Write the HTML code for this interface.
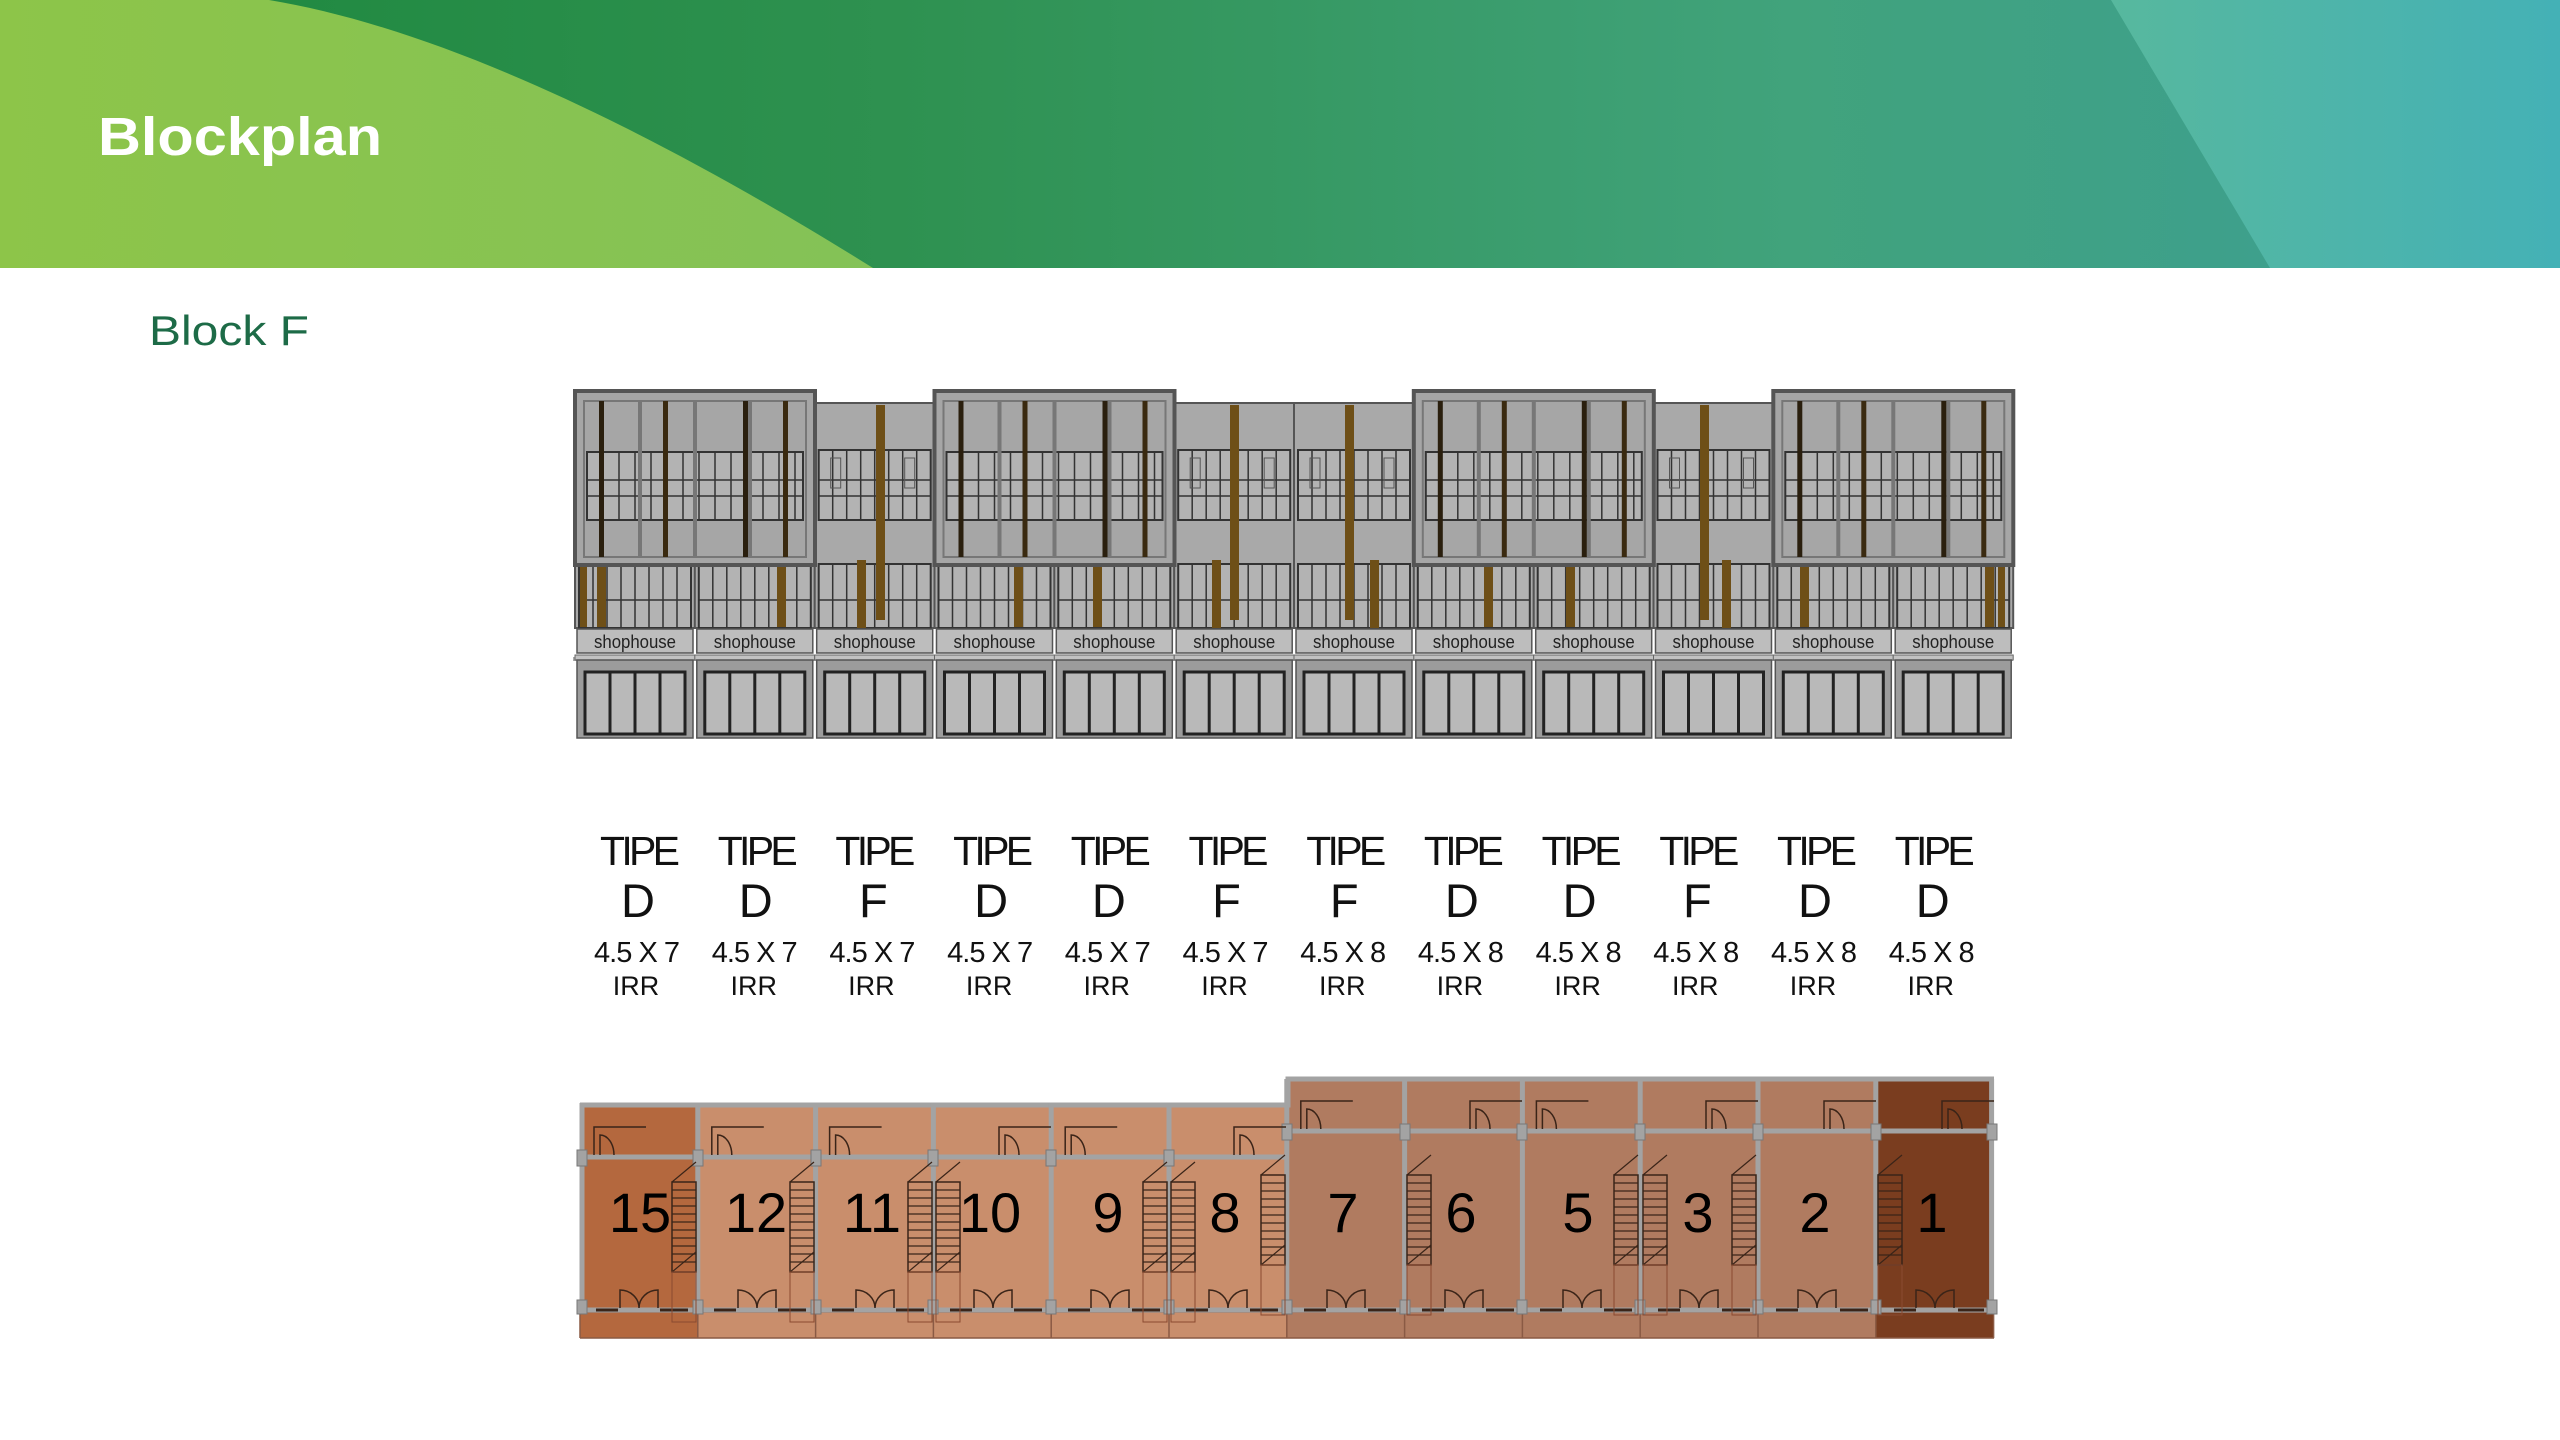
<!DOCTYPE html>
<html><head><meta charset="utf-8"><style>
html,body{margin:0;padding:0;background:#fff;}
body{width:2560px;height:1440px;overflow:hidden;position:relative;font-family:"Liberation Sans",sans-serif;}
svg{position:absolute;left:0;top:0;}
</style></head><body>
<svg width="2560" height="1440" viewBox="0 0 2560 1440" xmlns="http://www.w3.org/2000/svg">
<defs>
<linearGradient id="hg" x1="0" x2="1" y1="0" y2="0">
<stop offset="0" stop-color="#1c873c"/><stop offset="0.35" stop-color="#2e9150"/><stop offset="0.7" stop-color="#41a37c"/><stop offset="1" stop-color="#3c9e96"/>
</linearGradient>
<linearGradient id="lg" x1="0" x2="1"><stop offset="0" stop-color="#8dc549"/><stop offset="1" stop-color="#84c257"/></linearGradient>
<linearGradient id="tg" x1="0" x2="1"><stop offset="0" stop-color="#57b89e"/><stop offset="1" stop-color="#44b1b6"/></linearGradient>
<g id="u">
<rect x="0" y="403" width="120" height="225" fill="#a9a9a9" stroke="#555" stroke-width="2"/>
<rect x="4" y="450" width="112" height="70" fill="#b3b3b3" stroke="#333" stroke-width="2"/>
<path d="M4,480H116M4,496H116M18,450V520M32,450V520M46,450V520M60,450V520M74,450V520M88,450V520M102,450V520" stroke="#333" stroke-width="1.5" fill="none"/>
<rect x="16" y="458" width="10" height="30" fill="none" stroke="#555"/><rect x="90" y="458" width="10" height="30" fill="none" stroke="#555"/>
<rect x="4" y="564" width="112" height="64" fill="#b3b3b3" stroke="#333" stroke-width="2"/>
<path d="M4,600H116M18,564V628M32,564V628M46,564V628M60,564V628M74,564V628M88,564V628M102,564V628" stroke="#333" stroke-width="1.5" fill="none"/>
<rect x="2" y="629" width="116" height="24" fill="#bdbdbd" stroke="#555" stroke-width="1.5"/>
<text x="60" y="648" font-size="18" text-anchor="middle" fill="#222" font-family="Liberation Sans, sans-serif" textLength="82" lengthAdjust="spacingAndGlyphs">shophouse</text>
<rect x="0" y="655" width="120" height="5" fill="#c2c2c2" stroke="#666"/>
<rect x="2" y="660" width="116" height="78" fill="#9c9c9c" stroke="#555" stroke-width="1.5"/>
<rect x="10" y="672" width="100" height="62" fill="#b9b9b9" stroke="#222" stroke-width="3"/>
<path d="M35,672V734M60,672V734M85,672V734" stroke="#222" stroke-width="3"/>
</g>
<g id="b">
<rect x="0" y="391" width="240" height="174" fill="#a6a6a6" stroke="#555" stroke-width="4"/>
<rect x="9" y="401" width="222" height="156" fill="none" stroke="#777" stroke-width="2"/>
<rect x="12" y="452" width="216" height="68" fill="#b3b3b3" stroke="#333" stroke-width="2"/>
<path d="M12,480H228M12,496H228M28,452V520M44,452V520M60,452V520M76,452V520M92,452V520M108,452V520M124,452V520M140,452V520M156,452V520M172,452V520M188,452V520M204,452V520M220,452V520" stroke="#333" stroke-width="1.5"/>
<path d="M65,401V557M120,401V557M175,401V557" stroke="#777" stroke-width="4"/>
<rect x="24" y="401" width="5" height="156" fill="#2a1f0e"/><rect x="88" y="401" width="5" height="156" fill="#3a2a10"/>
<rect x="168" y="401" width="5" height="156" fill="#2a1f0e"/><rect x="208" y="401" width="5" height="156" fill="#3a2a10"/>
</g>
<g id="st">
<rect x="0" y="0" width="24" height="90" fill="none" stroke="#3a2418" stroke-width="1.5"/>
<path d="M0,8H24M0,16H24M0,24H24M0,32H24M0,40H24M0,48H24M0,56H24M0,64H24M0,72H24M0,80H24" stroke="#3a2418" stroke-width="1.2"/>
<path d="M0,0L24,-20M0,90L24,70" stroke="#3a2418" stroke-width="1.2"/>
<rect x="0" y="90" width="24" height="50" fill="none" stroke="#8a4a30" stroke-width="1"/>
</g>
<path id="dd" d="M-19,0v-18A19,18 0 0 1 0,0M19,0v-18A19,18 0 0 0 0,0" fill="none" stroke="#3a2418" stroke-width="1.5"/>
<path id="rd" d="M14,0V-28H66M14,-28V0M20,0v-20A14,20 0 0 1 34,0" fill="none" stroke="#3a2418" stroke-width="1.5"/>
</defs>

<!-- header -->
<rect x="0" y="0" width="2560" height="268" fill="url(#hg)"/>
<polygon points="2111,0 2560,0 2560,268 2270,268" fill="url(#tg)"/>
<path d="M0,0H269C420,25 620,110 873,268H0Z" fill="url(#lg)"/>
<text x="98" y="155" font-size="54" font-weight="bold" fill="#fff" font-family="Liberation Sans, sans-serif" textLength="284" lengthAdjust="spacingAndGlyphs">Blockplan</text>
<text x="149" y="345" font-size="42" fill="#1d6b47" font-family="Liberation Sans, sans-serif" textLength="160" lengthAdjust="spacingAndGlyphs">Block F</text>

<!-- facade -->
<rect x="573" y="657" width="1440" height="4" fill="#aaa"/>
<use href="#u" x="575"/><use href="#u" x="694.8"/><use href="#u" x="814.7"/><use href="#u" x="934.5"/>
<use href="#u" x="1054.3"/><use href="#u" x="1174.2"/><use href="#u" x="1294"/><use href="#u" x="1413.8"/>
<use href="#u" x="1533.7"/><use href="#u" x="1653.5"/><use href="#u" x="1773.3"/><use href="#u" x="1893.2"/>
<g fill="#6e4f17">
<rect x="876" y="405" width="9" height="215"/><rect x="1230" y="405" width="9" height="215"/>
<rect x="1345" y="405" width="9" height="215"/><rect x="1700" y="405" width="9" height="215"/>
<rect x="580" y="565" width="7" height="62"/><rect x="597" y="565" width="9" height="62"/>
<rect x="777" y="565" width="9" height="62"/><rect x="857" y="560" width="9" height="68"/>
<rect x="1014" y="565" width="9" height="62"/><rect x="1093" y="565" width="9" height="62"/>
<rect x="1212" y="560" width="9" height="68"/><rect x="1370" y="560" width="9" height="68"/>
<rect x="1484" y="565" width="9" height="62"/><rect x="1566" y="565" width="9" height="62"/>
<rect x="1722" y="560" width="9" height="68"/><rect x="1800" y="565" width="9" height="62"/>
<rect x="1985" y="565" width="9" height="62"/><rect x="1998" y="565" width="7" height="62"/>
</g>
<use href="#b" x="575"/><use href="#b" x="934.5"/><use href="#b" x="1413.8"/><use href="#b" x="1773.3"/>

<!-- labels -->
<g font-family="Liberation Sans, sans-serif" text-anchor="middle" fill="#111">
<g font-size="41" lengthAdjust="spacingAndGlyphs"><text x="640" y="865" textLength="80">TIPE</text><text x="757.7" y="865" textLength="80">TIPE</text><text x="875.4" y="865" textLength="80">TIPE</text><text x="993.1" y="865" textLength="80">TIPE</text><text x="1110.8" y="865" textLength="80">TIPE</text><text x="1228.5" y="865" textLength="80">TIPE</text><text x="1346.2" y="865" textLength="80">TIPE</text><text x="1463.9" y="865" textLength="80">TIPE</text><text x="1581.6" y="865" textLength="80">TIPE</text><text x="1699.3" y="865" textLength="80">TIPE</text><text x="1817" y="865" textLength="80">TIPE</text><text x="1934.7" y="865" textLength="80">TIPE</text></g>
<g font-size="47"><text x="638" y="917">D</text><text x="755.7" y="917">D</text><text x="873.4" y="917">F</text><text x="991.1" y="917">D</text><text x="1108.8" y="917">D</text><text x="1226.5" y="917">F</text><text x="1344.2" y="917">F</text><text x="1461.9" y="917">D</text><text x="1579.6" y="917">D</text><text x="1697.3" y="917">F</text><text x="1815" y="917">D</text><text x="1932.7" y="917">D</text></g>
<g font-size="29" lengthAdjust="spacingAndGlyphs"><text x="637" y="962" textLength="86">4.5 X 7</text><text x="754.7" y="962" textLength="86">4.5 X 7</text><text x="872.4" y="962" textLength="86">4.5 X 7</text><text x="990.1" y="962" textLength="86">4.5 X 7</text><text x="1107.8" y="962" textLength="86">4.5 X 7</text><text x="1225.5" y="962" textLength="86">4.5 X 7</text><text x="1343.2" y="962" textLength="86">4.5 X 8</text><text x="1460.9" y="962" textLength="86">4.5 X 8</text><text x="1578.6" y="962" textLength="86">4.5 X 8</text><text x="1696.3" y="962" textLength="86">4.5 X 8</text><text x="1814" y="962" textLength="86">4.5 X 8</text><text x="1931.7" y="962" textLength="86">4.5 X 8</text></g>
<g font-size="27"><text x="636" y="995">IRR</text><text x="753.7" y="995">IRR</text><text x="871.4" y="995">IRR</text><text x="989.1" y="995">IRR</text><text x="1106.8" y="995">IRR</text><text x="1224.5" y="995">IRR</text><text x="1342.2" y="995">IRR</text><text x="1459.9" y="995">IRR</text><text x="1577.6" y="995">IRR</text><text x="1695.3" y="995">IRR</text><text x="1813" y="995">IRR</text><text x="1930.7" y="995">IRR</text></g>
</g>

<!-- floor plan fills -->
<rect x="580" y="1103" width="117.8" height="235" fill="#b4683e"/>
<rect x="697.8" y="1103" width="589" height="235" fill="#c98e6c"/>
<rect x="1286.8" y="1077" width="589" height="261" fill="#b07b60"/>
<rect x="1875.8" y="1077" width="117.8" height="261" fill="#7a3d1f"/>
<g stroke="#8a5a44" stroke-width="1.5" fill="none">
<path d="M580,1312H1994M580,1338H1994M580,1312V1338M697.8,1312V1338M815.6,1312V1338M933.4,1312V1338M1051.2,1312V1338M1169,1312V1338M1286.8,1312V1338M1404.6,1312V1338M1522.4,1312V1338M1640.2,1312V1338M1758,1312V1338M1875.8,1312V1338M1993.6,1312V1338"/>
</g>
<!-- walls -->
<g stroke="#a3a3a3" stroke-width="5" fill="none">
<path d="M580,1105H1288V1079H1994"/>
<path d="M582,1103V1310M697.8,1103V1310M815.6,1103V1310M933.4,1103V1310M1051.2,1103V1310M1169,1103V1310M1286.8,1079V1310M1404.6,1079V1310M1522.4,1079V1310M1640.2,1079V1310M1758,1079V1310M1875.8,1079V1310M1991.6,1079V1310"/>
<path d="M580,1157H1287M1287,1131H1994"/>
<path d="M580,1310H1994"/>
</g>
<g fill="#a3a3a3" stroke="#777" stroke-width="1">
<rect x="577" y="1150" width="10" height="16"/><rect x="693" y="1150" width="10" height="16"/><rect x="811" y="1150" width="10" height="16"/><rect x="928" y="1150" width="10" height="16"/><rect x="1046" y="1150" width="10" height="16"/><rect x="1164" y="1150" width="10" height="16"/>
<rect x="1282" y="1124" width="10" height="16"/><rect x="1400" y="1124" width="10" height="16"/><rect x="1517" y="1124" width="10" height="16"/><rect x="1635" y="1124" width="10" height="16"/><rect x="1753" y="1124" width="10" height="16"/><rect x="1871" y="1124" width="10" height="16"/><rect x="1987" y="1124" width="10" height="16"/>
<rect x="577" y="1300" width="10" height="14"/><rect x="693" y="1300" width="10" height="14"/><rect x="811" y="1300" width="10" height="14"/><rect x="928" y="1300" width="10" height="14"/><rect x="1046" y="1300" width="10" height="14"/><rect x="1164" y="1300" width="10" height="14"/><rect x="1282" y="1300" width="10" height="14"/><rect x="1400" y="1300" width="10" height="14"/><rect x="1517" y="1300" width="10" height="14"/><rect x="1635" y="1300" width="10" height="14"/><rect x="1753" y="1300" width="10" height="14"/><rect x="1871" y="1300" width="10" height="14"/><rect x="1987" y="1300" width="10" height="14"/>
</g>
<!-- front dark wall segments & doors -->
<g stroke="#3a2418" stroke-width="3">
<path d="M596,1310H618M660,1310H688M714,1310H736M778,1310H806M832,1310H854M896,1310H924M950,1310H972M1014,1310H1042M1068,1310H1090M1132,1310H1160M1186,1310H1208M1250,1310H1278M1304,1310H1326M1368,1310H1396M1422,1310H1444M1486,1310H1514M1540,1310H1562M1604,1310H1632M1658,1310H1680M1722,1310H1750M1776,1310H1798M1840,1310H1868M1894,1310H1916M1958,1310H1984"/>
</g>
<use href="#dd" x="639" y="1308"/><use href="#dd" x="757" y="1308"/><use href="#dd" x="875" y="1308"/><use href="#dd" x="993" y="1308"/><use href="#dd" x="1110" y="1308"/><use href="#dd" x="1228" y="1308"/>
<use href="#dd" x="1346" y="1308"/><use href="#dd" x="1464" y="1308"/><use href="#dd" x="1582" y="1308"/><use href="#dd" x="1699" y="1308"/><use href="#dd" x="1817" y="1308"/><use href="#dd" x="1935" y="1308"/>
<!-- rear doors -->
<use href="#rd" x="580" y="1155"/><use href="#rd" x="697.8" y="1155"/><use href="#rd" x="815.6" y="1155"/><use href="#rd" x="985" y="1155"/><use href="#rd" x="1051.2" y="1155"/><use href="#rd" x="1220" y="1155"/>
<use href="#rd" x="1286.8" y="1129"/><use href="#rd" x="1456" y="1129"/><use href="#rd" x="1522.4" y="1129"/><use href="#rd" x="1692" y="1129"/><use href="#rd" x="1810" y="1129"/><use href="#rd" x="1928" y="1129"/>
<!-- stairs -->
<use href="#st" x="672" y="1182"/><use href="#st" x="790" y="1182"/><use href="#st" x="908" y="1182"/><use href="#st" x="936" y="1182"/><use href="#st" x="1143" y="1182"/><use href="#st" x="1171" y="1182"/>
<use href="#st" x="1261" y="1175"/><use href="#st" x="1407" y="1175"/><use href="#st" x="1614" y="1175"/><use href="#st" x="1643" y="1175"/><use href="#st" x="1732" y="1175"/><use href="#st" x="1878" y="1175"/>
<!-- numbers -->
<g font-family="Liberation Sans, sans-serif" font-size="56" text-anchor="middle" fill="#000">
<text x="640" y="1232">15</text><text x="756" y="1232">12</text><text x="872" y="1232">11</text><text x="990" y="1232">10</text><text x="1108" y="1232">9</text><text x="1225" y="1232">8</text>
<text x="1343" y="1232">7</text><text x="1461" y="1232">6</text><text x="1578" y="1232">5</text><text x="1698" y="1232">3</text><text x="1815" y="1232">2</text><text x="1932" y="1232">1</text>
</g>
</svg>
</body></html>
